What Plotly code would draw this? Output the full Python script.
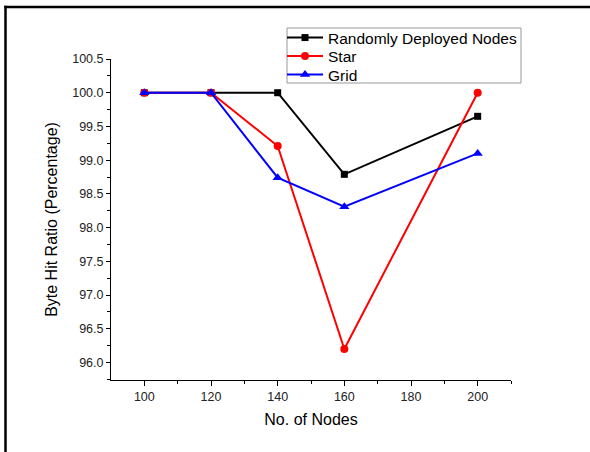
import plotly.graph_objects as go

nodes = [100, 120, 140, 160, 200]
random_nodes = [100.0, 100.0, 100.0, 98.79, 99.65]
star = [100.0, 100.0, 99.21, 96.2, 100.0]
grid = [100.0, 100.0, 98.74, 98.31, 99.1]

L, R, T, B = 111, 79, 59, 72
W, H = 590, 452
pw, ph = W - L - R, H - T - B

def px(x):
    return (x - L) / pw

def py(y):
    return (H - B - y) / ph

fig = go.Figure()
fig.add_trace(go.Scatter(x=nodes, y=random_nodes, name="Randomly Deployed Nodes", mode="lines+markers",
                         line=dict(color="black", width=2), marker=dict(symbol="square", size=7, color="black"),
                         legend="legend"))
fig.add_trace(go.Scatter(x=nodes, y=star, name="Star", mode="lines+markers",
                         line=dict(color="red", width=2), marker=dict(symbol="circle", size=8, color="red"),
                         legend="legend2"))
fig.add_trace(go.Scatter(x=nodes, y=grid, name="Grid", mode="lines+markers",
                         line=dict(color="blue", width=2), marker=dict(symbol="triangle-up", size=9, color="blue"),
                         legend="legend3"))

def leg(yc):
    return dict(x=px(282), y=py(yc), xanchor="left", yanchor="middle",
                borderwidth=0, bgcolor="rgba(0,0,0,0)",
                font=dict(size=15.5, color="black"), itemwidth=36)

fig.update_layout(
    width=W, height=H,
    margin=dict(l=L, r=R, t=T, b=B),
    paper_bgcolor="white", plot_bgcolor="white",
    font=dict(family="Liberation Sans, Arial", color="#222"),
    showlegend=True,
    legend=leg(38), legend2=leg(56.5), legend3=leg(75),
    xaxis=dict(range=[90, 210], tickvals=[100, 120, 140, 160, 180, 200],
               showgrid=False, zeroline=False, showline=True, linecolor="black", linewidth=1,
               ticks="outside", ticklen=5, tickcolor="black",
               minor=dict(tickvals=[110, 130, 150, 170, 190, 210], ticks="outside", ticklen=3, tickcolor="black"),
               tickfont=dict(size=12.5, color="#222"),
               title=dict(text="No. of Nodes", font=dict(size=16, color="black"), standoff=10)),
    yaxis=dict(range=[95.74, 100.5], tickvals=[96.0, 96.5, 97.0, 97.5, 98.0, 98.5, 99.0, 99.5, 100.0, 100.5],
               ticktext=["96.0", "96.5", "97.0", "97.5", "98.0", "98.5", "99.0", "99.5", "100.0", "100.5"],
               showgrid=False, zeroline=False, showline=True, linecolor="black", linewidth=1,
               ticks="outside", ticklen=4, tickcolor="black",
               minor=dict(tickvals=[95.75, 96.25, 96.75, 97.25, 97.75, 98.25, 98.75, 99.25, 99.75, 100.25],
                          ticks="outside", ticklen=3, tickcolor="black"),
               tickfont=dict(size=12.5, color="#222"),
               title=dict(text="Byte Hit Ratio (Percentage)", font=dict(size=16, color="black"), standoff=10)),
    shapes=[
        dict(type="line", xref="paper", yref="paper", x0=px(4.3), x1=px(W), y0=py(7), y1=py(7),
             line=dict(color="black", width=2.5), layer="above"),
        dict(type="line", xref="paper", yref="paper", x0=px(5.5), x1=px(5.5), y0=py(5.8), y1=py(H),
             line=dict(color="black", width=2.5), layer="above"),
        dict(type="rect", xref="paper", yref="paper", x0=px(287), x1=px(521), y0=py(28), y1=py(83),
             line=dict(color="#999", width=1), fillcolor="rgba(0,0,0,0)", layer="above"),
    ],
)

fig.write_html("out.html", config={"displayModeBar": False},
               post_script="document.body.style.margin='0';")
